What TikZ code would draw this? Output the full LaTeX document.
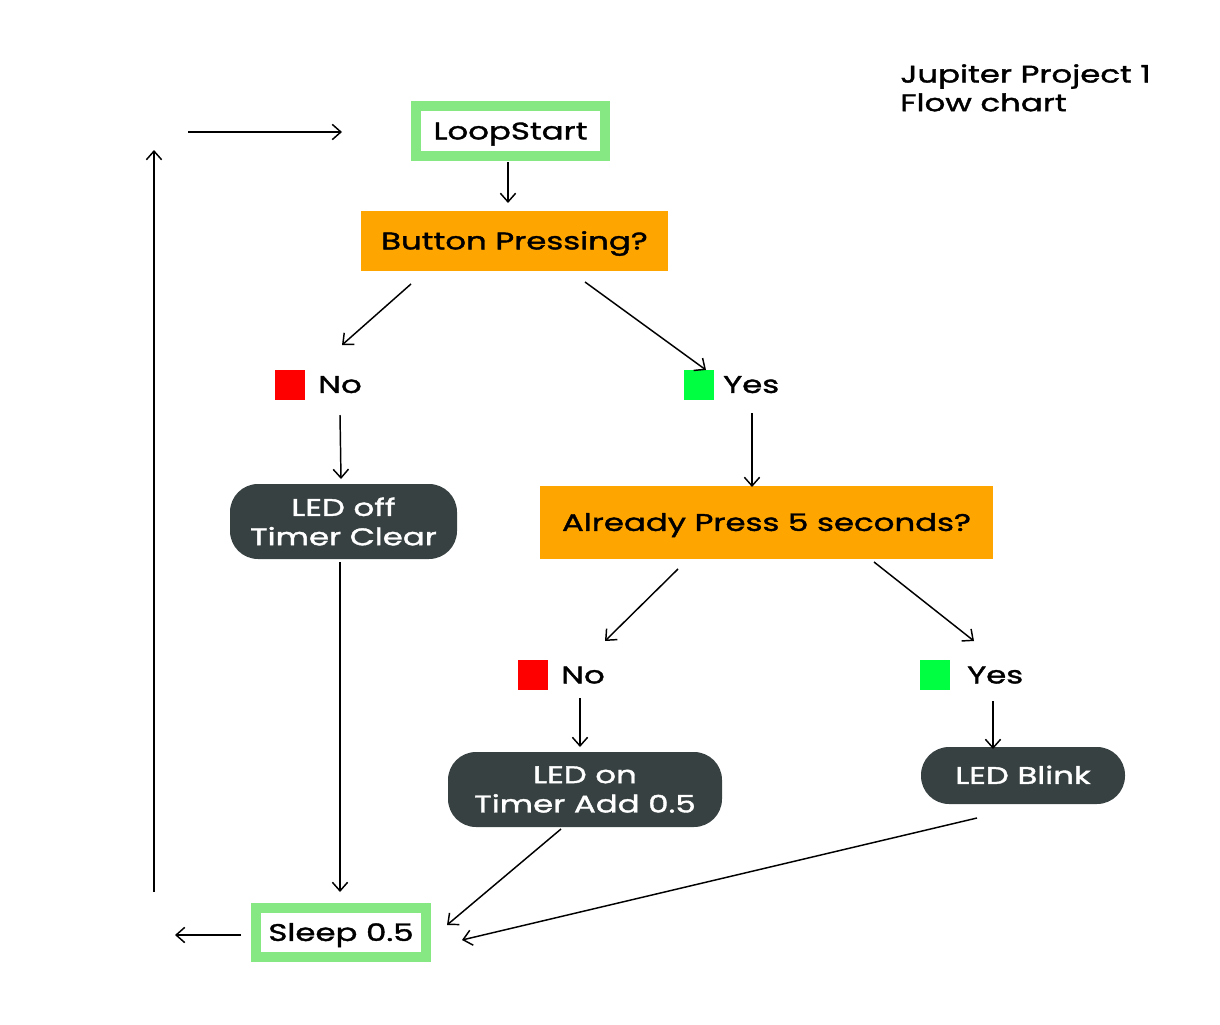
\documentclass[tikz,border=0pt]{standalone}
\usepackage{fontspec}
\setmainfont{Poppins}[FakeStretch=1.35,FakeBold=1.6]
\usetikzlibrary{arrows.meta}
\definecolor{framegreen}{HTML}{86E882}
\definecolor{decorange}{HTML}{FFA500}
\definecolor{darkbox}{HTML}{384142}
\definecolor{nored}{HTML}{FF0000}
\definecolor{yesgreen}{HTML}{00FF40}
\begin{document}
\begin{tikzpicture}[x=0.75pt,y=-0.75pt,
  txt/.style={font=\fontsize{18}{20}\selectfont},
  one/.style={text height=12.6pt,text depth=0pt},
  framebox/.style={txt,one,draw=framegreen,line width=7.5pt,fill=white,inner sep=0pt},
  decbox/.style={txt,one,fill=decorange,inner sep=0pt},
  actbox/.style={fill=darkbox,text=white,rounded corners=21pt,inner sep=0pt,align=center,font=\fontsize{18}{22}\selectfont},
  marksq/.style={minimum size=22.5pt,inner sep=0pt},
  lbl/.style={txt,one,anchor=west,inner sep=0pt},
  arr/.style={-{Straight Barb[length=6.5pt,width=11.5pt]},line width=1.1pt}
]
\useasboundingbox (0,0) rectangle (1220,1024);

% title
\node[anchor=north west,align=left,inner sep=0pt,font=\fontsize{18}{21.5}\selectfont] (title) at (900,64) {Jupiter Project 1\\Flow chart};

% nodes
\node[framebox,minimum width={189*0.75pt},minimum height={50*0.75pt}] (loop) at (510.5,131) {LoopStart};
\node[decbox,minimum width={307*0.75pt},minimum height={60*0.75pt}] (btn) at (514.5,241) {Button Pressing?};
\node[marksq,fill=nored] (no1sq) at (290,384.5) {};
\node[lbl] (no1) at (318,384.5) {No};
\node[marksq,fill=yesgreen] (yes1sq) at (699,384.5) {};
\node[lbl] (yes1) at (723,384.5) {Yes};
\node[actbox,minimum width={227*0.75pt},minimum height={75*0.75pt}] (off) at (343.5,521.5) {LED off\\Timer Clear};
\node[decbox,minimum width={453*0.75pt},minimum height={73*0.75pt}] (five) at (766.5,522.5) {Already Press 5 seconds?};
\node[marksq,fill=nored] (no2sq) at (533,675) {};
\node[lbl] (no2) at (561,675) {No};
\node[marksq,fill=yesgreen] (yes2sq) at (935,675) {};
\node[lbl] (yes2) at (967,675) {Yes};
\node[actbox,minimum width={274*0.75pt},minimum height={75*0.75pt}] (on) at (585,789.5) {LED on\\Timer Add 0.5};
\node[actbox,one,minimum width={204*0.75pt},minimum height={57*0.75pt}] (blink) at (1023,775.5) {LED Blink};
\node[framebox,minimum width={170*0.75pt},minimum height={49*0.75pt}] (sleep) at (341,932.5) {Sleep 0.5};

% connector end points
\coordinate (a1) at (508,162);  \coordinate (a2) at (508,203);
\coordinate (b1) at (411,284);  \coordinate (b2) at (342,345);
\coordinate (c1) at (585,282);  \coordinate (c2) at (706,370);
\coordinate (d1) at (340,415);  \coordinate (d2) at (341,479);
\coordinate (e1) at (752,413);  \coordinate (e2) at (752,487);
\coordinate (f1) at (678,569);  \coordinate (f2) at (605,641);
\coordinate (g1) at (874,562);  \coordinate (g2) at (974,641);
\coordinate (h1) at (580,698);  \coordinate (h2) at (580,747);
\coordinate (i1) at (993,701);  \coordinate (i2) at (993,749);
\coordinate (j1) at (561,829);  \coordinate (j2) at (447,925);
\coordinate (k1) at (977,818);  \coordinate (k2) at (462,940);
\coordinate (l1) at (340,562);  \coordinate (l2) at (340,892);
\coordinate (m1) at (241,935);  \coordinate (m2) at (175,935);
\coordinate (n1) at (154,892);  \coordinate (n2) at (154,150);
\coordinate (o1) at (188,132);  \coordinate (o2) at (342,132);

\draw[arr] (a1) -- (a2);
\draw[arr] (b1) -- (b2);
\draw[arr] (c1) -- (c2);
\draw[arr] (d1) -- (d2);
\draw[arr] (e1) -- (e2);
\draw[arr] (f1) -- (f2);
\draw[arr] (g1) -- (g2);
\draw[arr] (h1) -- (h2);
\draw[arr] (i1) -- (i2);
\draw[arr] (j1) -- (j2);
\draw[arr] (k1) -- (k2);
\draw[arr] (l1) -- (l2);
\draw[arr] (m1) -- (m2);
\draw[arr] (n1) -- (n2);
\draw[arr] (o1) -- (o2);
\end{tikzpicture}
\end{document}
